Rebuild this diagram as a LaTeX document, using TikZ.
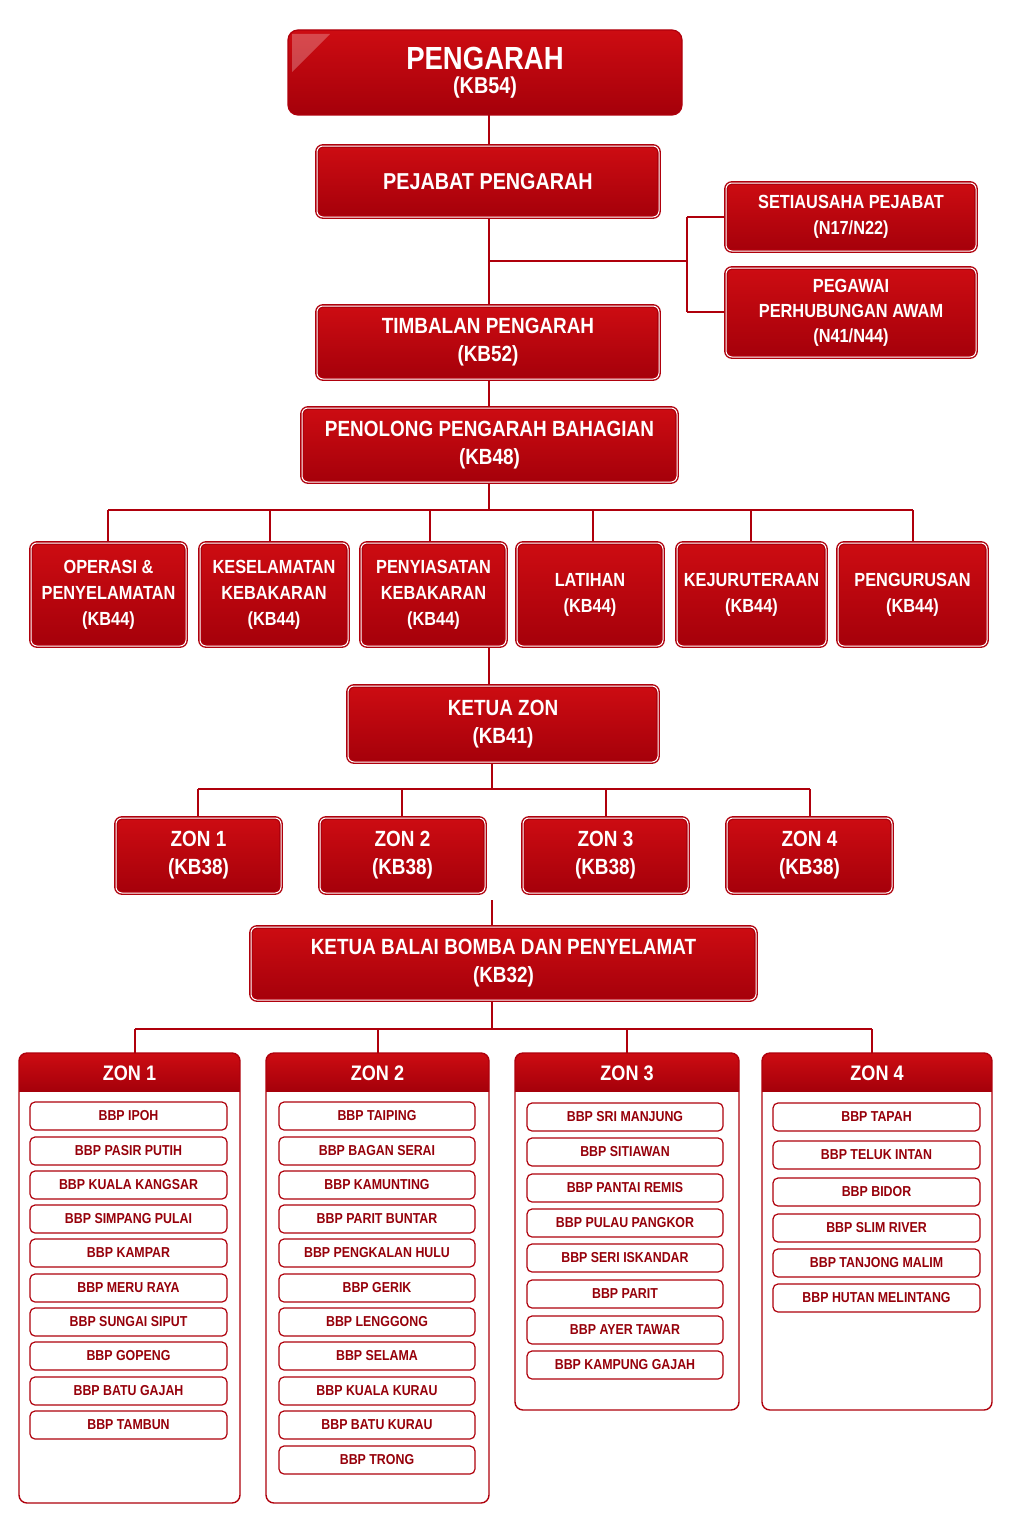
\documentclass[tikz,border=0pt]{standalone}
\usepackage{fontspec}
\setmainfont{Liberation Sans}[FakeStretch=0.86]
\begin{document}
\definecolor{rtop}{RGB}{205,12,18}
\definecolor{rbot}{RGB}{165,0,10}
\definecolor{rline}{RGB}{175,0,12}
\definecolor{rtext}{RGB}{150,0,10}
\newcommand\RB[8]{\node[#1,minimum width={(#5-#3)*0.5pt},minimum height={(#6-#4)*0.5pt}] (#2) at ({(#3+#5)/2},{(#4+#6)/2}) {#7#8};}
\newcommand\IT[6]{\node[item,minimum width={(#4-#3)*0.5pt}] (#1) at ({(#3+#4)/2},#5) {#6};}
\begin{tikzpicture}[x=0.5pt,y=-0.5pt,
  box/.style={rounded corners=3pt,top color=rtop,bottom color=rbot,draw=rline,double=white,double distance=0.5pt,line width=0.7pt,text=white,font=\bfseries\fontsize{10}{13}\selectfont,align=center,inner sep=0pt},
  bigbox/.style={rounded corners=5pt,top color=rtop,bottom color=rbot,draw=rline,line width=0.6pt,text=white,align=center,inner sep=0pt},
  item/.style={rounded corners=2.5pt,draw=rline,line width=0.6pt,fill=white,text=rtext,font=\bfseries\fontsize{7.2}{8}\selectfont,minimum height=14pt,inner sep=0pt},
  hdr/.style={text=white,font=\bfseries\fontsize{10.5}{12}\selectfont,inner sep=0pt},
  con/.style={draw=rline,line width=1.3pt}]
\useasboundingbox (0,0) rectangle (1024,1536);
\fill[white] (0,0) rectangle (1024,1536);
% connectors (behind)
\coordinate (b1) at (489,510);
\coordinate (b2) at (108,510);
\coordinate (b3) at (913,510);
\coordinate (k1) at (492,789);
\coordinate (k2) at (198,789);
\coordinate (k3) at (810,789);
\coordinate (m1) at (492,1029);
\coordinate (m2) at (135,1029);
\coordinate (m3) at (872,1029);
\coordinate (s0) at (489,261);
\coordinate (s1) at (687,261);
\coordinate (s2) at (687,217);
\coordinate (s3) at (687,312);
\coordinate (j1) at (489,646);
\coordinate (j2) at (489,686);
\coordinate (j3) at (492,900);
\coordinate (j4) at (492,927);
\draw[con] (489,115) -- (489,146);
\draw[con] (489,217) -- (489,306);
\draw[con] (s0) -- (s1);
\draw[con] (s2) -- (726,217);
\draw[con] (s3) -- (726,312);
\draw[con] (s2) -- (s3);
\draw[con] (489,379) -- (489,408);
\draw[con] (489,482) -- (b1);
\draw[con] (b2) -- (b3);
\foreach \x in {108,270,430,593,751,913} \draw[con] (\x,510) -- (\x,545);
\draw[con] (j1) -- (j2);
\draw[con] (492,762) -- (k1);
\draw[con] (k2) -- (k3);
\foreach \x in {198,402,606,810} \draw[con] (\x,789) -- (\x,820);
\draw[con] (j3) -- (j4);
\draw[con] (492,1000) -- (m1);
\draw[con] (m2) -- (m3);
\foreach \x in {135,378,627,872} \draw[con] (\x,1029) -- (\x,1055);
% top
\RB{bigbox}{pen}{288}{30}{682}{115}{{\bfseries\fontsize{16}{19}\selectfont PENGARAH}\\}{{\bfseries\fontsize{11.5}{14}\selectfont (KB54)}}
\fill[white,opacity=0.25] (292,34) -- (330,34) -- (292,72) -- cycle;
\RB{box,font=\bfseries\fontsize{11.5}{14}\selectfont}{pej}{317}{146}{659}{217}{PEJABAT PENGARAH}{}
\RB{box,font=\bfseries\fontsize{9.5}{13}\selectfont}{set}{726}{183}{976}{251}{SETIAUSAHA PEJABAT\\}{(N17/N22)}
\RB{box,font=\bfseries\fontsize{9.5}{12.5}\selectfont}{peg}{726}{268}{976}{357}{PEGAWAI\\PERHUBUNGAN AWAM\\}{(N41/N44)}
\RB{box,font=\bfseries\fontsize{11}{14}\selectfont}{tim}{317}{306}{659}{379}{TIMBALAN PENGARAH\\}{(KB52)}
\RB{box,font=\bfseries\fontsize{11}{14}\selectfont}{pno}{302}{408}{677}{482}{PENOLONG PENGARAH BAHAGIAN\\}{(KB48)}
% divisions
\RB{box,font=\bfseries\fontsize{9.5}{13}\selectfont}{d1}{31}{543}{186}{646}{OPERASI \&\\PENYELAMATAN\\}{(KB44)}
\RB{box,font=\bfseries\fontsize{9.5}{13}\selectfont}{d2}{200}{543}{348}{646}{KESELAMATAN\\KEBAKARAN\\}{(KB44)}
\RB{box,font=\bfseries\fontsize{9.5}{13}\selectfont}{d3}{361}{543}{506}{646}{PENYIASATAN\\KEBAKARAN\\}{(KB44)}
\RB{box,font=\bfseries\fontsize{9.5}{13}\selectfont}{d4}{517}{543}{663}{646}{LATIHAN\\}{(KB44)}
\RB{box,font=\bfseries\fontsize{9.5}{13}\selectfont}{d5}{677}{543}{826}{646}{KEJURUTERAAN\\}{(KB44)}
\RB{box,font=\bfseries\fontsize{9.5}{13}\selectfont}{d6}{838}{543}{987}{646}{PENGURUSAN\\}{(KB44)}
\RB{box,font=\bfseries\fontsize{11}{14}\selectfont}{kz}{348}{686}{658}{762}{KETUA ZON\\}{(KB41)}
\RB{box,font=\bfseries\fontsize{11}{14}\selectfont}{z1}{116}{818}{281}{893}{ZON 1\\}{(KB38)}
\RB{box,font=\bfseries\fontsize{11}{14}\selectfont}{z2}{320}{818}{485}{893}{ZON 2\\}{(KB38)}
\RB{box,font=\bfseries\fontsize{11}{14}\selectfont}{z3}{523}{818}{688}{893}{ZON 3\\}{(KB38)}
\RB{box,font=\bfseries\fontsize{11}{14}\selectfont}{z4}{727}{818}{892}{893}{ZON 4\\}{(KB38)}
\RB{box,font=\bfseries\fontsize{11}{14}\selectfont}{kb}{251}{927}{756}{1000}{KETUA BALAI BOMBA DAN PENYELAMAT\\}{(KB32)}
% panels
\foreach \a/\b/\c/\n/\t in {19/240/1503/p1/ZON 1,266/489/1503/p2/ZON 2,515/739/1410/p3/ZON 3,762/992/1410/p4/ZON 4}{
  \begin{scope}
    \clip[rounded corners=4pt] (\a,1053) rectangle (\b,\c);
    \fill[top color=rtop,bottom color=rbot] (\a,1053) rectangle (\b,1091);
  \end{scope}
  \draw[rline,line width=0.7pt,rounded corners=4pt] (\a,1053) rectangle (\b,\c);
  \node[hdr] (\n) at ({(\a+\b)/2},1073) {\t};
}
% zone 1
\IT{a1}{}{30}{227}{1116}{BBP IPOH}
\IT{a2}{}{30}{227}{1151}{BBP PASIR PUTIH}
\IT{a3}{}{30}{227}{1185}{BBP KUALA KANGSAR}
\IT{a4}{}{30}{227}{1219}{BBP SIMPANG PULAI}
\IT{a5}{}{30}{227}{1253}{BBP KAMPAR}
\IT{a6}{}{30}{227}{1288}{BBP MERU RAYA}
\IT{a7}{}{30}{227}{1322}{BBP SUNGAI SIPUT}
\IT{a8}{}{30}{227}{1356}{BBP GOPENG}
\IT{a9}{}{30}{227}{1391}{BBP BATU GAJAH}
\IT{a10}{}{30}{227}{1425}{BBP TAMBUN}
% zone 2
\IT{b1n}{}{279}{475}{1116}{BBP TAIPING}
\IT{b2n}{}{279}{475}{1151}{BBP BAGAN SERAI}
\IT{b3n}{}{279}{475}{1185}{BBP KAMUNTING}
\IT{b4n}{}{279}{475}{1219}{BBP PARIT BUNTAR}
\IT{b5n}{}{279}{475}{1253}{BBP PENGKALAN HULU}
\IT{b6n}{}{279}{475}{1288}{BBP GERIK}
\IT{b7n}{}{279}{475}{1322}{BBP LENGGONG}
\IT{b8n}{}{279}{475}{1356}{BBP SELAMA}
\IT{b9n}{}{279}{475}{1391}{BBP KUALA KURAU}
\IT{b10n}{}{279}{475}{1425}{BBP BATU KURAU}
\IT{b11n}{}{279}{475}{1460}{BBP TRONG}
% zone 3
\IT{c1}{}{527}{723}{1117}{BBP SRI MANJUNG}
\IT{c2}{}{527}{723}{1152}{BBP SITIAWAN}
\IT{c3}{}{527}{723}{1188}{BBP PANTAI REMIS}
\IT{c4}{}{527}{723}{1223}{BBP PULAU PANGKOR}
\IT{c5}{}{527}{723}{1258}{BBP SERI ISKANDAR}
\IT{c6}{}{527}{723}{1294}{BBP PARIT}
\IT{c7}{}{527}{723}{1330}{BBP AYER TAWAR}
\IT{c8}{}{527}{723}{1365}{BBP KAMPUNG GAJAH}
% zone 4
\IT{e1}{}{773}{980}{1117}{BBP TAPAH}
\IT{e2}{}{773}{980}{1155}{BBP TELUK INTAN}
\IT{e3}{}{773}{980}{1192}{BBP BIDOR}
\IT{e4}{}{773}{980}{1228}{BBP SLIM RIVER}
\IT{e5}{}{773}{980}{1263}{BBP TANJONG MALIM}
\IT{e6}{}{773}{980}{1298}{BBP HUTAN MELINTANG}
\end{tikzpicture}
\end{document}
